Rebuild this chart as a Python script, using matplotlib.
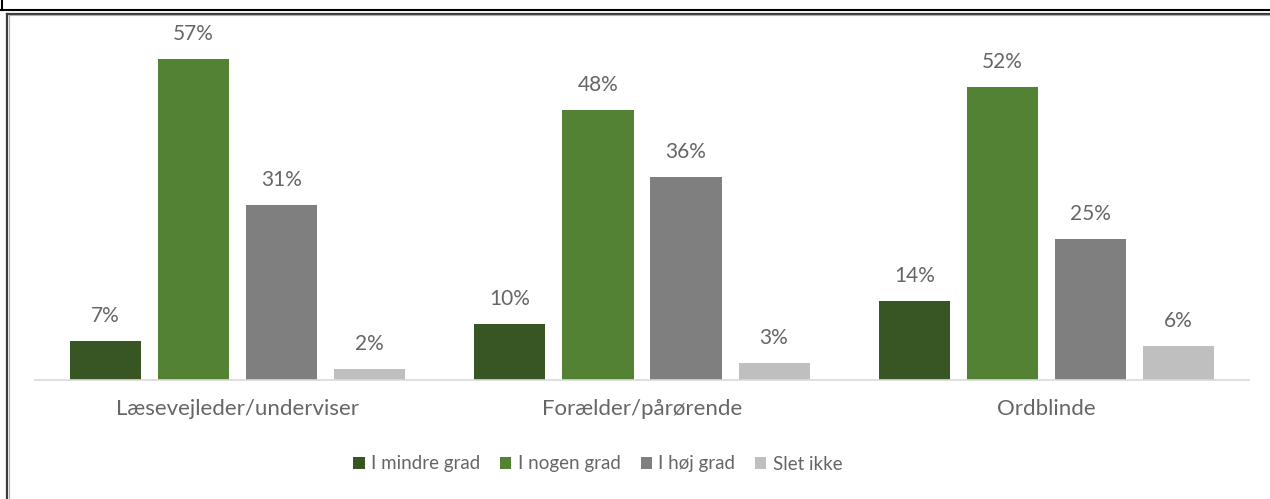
import matplotlib.pyplot as plt
import numpy as np
from matplotlib.lines import Line2D

plt.rcParams['font.family'] = ['Lato', 'DejaVu Sans']

# data
categories = ["Læsevejleder/underviser", "Forælder/pårørende", "Ordblinde"]
series_names = ["I mindre grad", "I nogen grad", "I høj grad", "Slet ikke"]
mindre = [7, 10, 14]
nogen = [57, 48, 52]
hoej = [31, 36, 25]
slet = [2, 3, 6]
colors = ["#375623", "#548235", "#7f7f7f", "#bfbfbf"]

W, H = 1270, 499
fig = plt.figure(figsize=(W / 100, H / 100), dpi=100)
ax = fig.add_axes([35 / W, (H - 380) / H, (1249 - 35) / W, 355 / H])

x = np.arange(len(categories))
width = 0.1755
step = 0.2175
text_col = "#666666"

for i, (vals, name) in enumerate(zip([mindre, nogen, hoej, slet], series_names)):
    pos = x + (i - 1.5) * step
    bars = ax.bar(pos, vals, width, color=colors[i], label=name, zorder=2)
    for b, v in zip(bars, vals):
        ax.annotate(f"{v}%", (b.get_x() + b.get_width() / 2, v),
                    xytext=(0, 18), textcoords="offset points",
                    ha="center", va="center", fontsize=15, color=text_col,
                    annotation_clip=False)

ax.set_xlim(-0.5, 2.5)
ax.set_ylim(0, 63.05)
ax.set_xticks(x)
ax.set_xticklabels(categories, fontsize=16, color=text_col)
ax.tick_params(axis="x", length=0, pad=14)
ax.set_yticks([])
for s in ["top", "right", "left"]:
    ax.spines[s].set_visible(False)
ax.spines["bottom"].set_color("#d9d9d9")
ax.spines["bottom"].set_linewidth(1.2)

leg = fig.legend(loc="center", bbox_to_anchor=(598 / W, (H - 464) / H), ncol=4,
                 frameon=False, fontsize=13.5, handlelength=0.6, handleheight=0.6,
                 handletextpad=0.35, columnspacing=1.05)
for t in leg.get_texts():
    t.set_color(text_col)

# borders of the screenshot
def px_line(xs, ys, color, lw):
    fig.add_artist(Line2D([v / W for v in xs], [1 - v / H for v in ys],
                          color=color, linewidth=lw, transform=fig.transFigure))

px_line([0, W], [10, 10], "black", 1.5)
px_line([1.5, 1.5], [0, 10], "black", 1.5)
px_line([7, W], [13.5, 13.5], "#3c3c3c", 1.6)
px_line([7, 7], [13.5, H], "#3c3c3c", 1.6)
px_line([8.5, W], [15, 15], "#b0b0b0", 0.8)
px_line([8.5, 8.5], [15, H], "#b0b0b0", 0.8)

fig.savefig("out.png", dpi=100)
